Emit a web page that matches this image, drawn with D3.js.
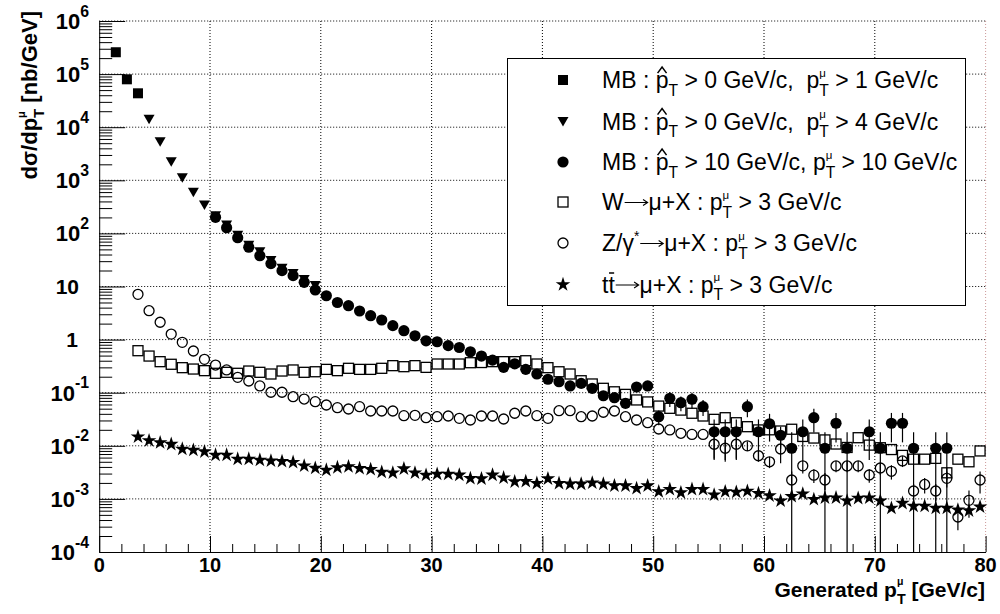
<!DOCTYPE html>
<html>
<head>
<meta charset="utf-8">
<script src="https://cdn.jsdelivr.net/npm/d3@7"></script>
<style>
  html, body { margin: 0; padding: 0; background: #fff; }
  svg { display: block; }
</style>
</head>
<body>
<svg id="chart" width="1000" height="614"></svg>
<script>
// ---- Differential muon cross sections, 1 GeV/c bins (values at bin centres) ----

// Minimum bias, p̂T > 0, pT(mu) > 1 GeV/c : first bin centre 1.5
const mbLowStart = 1.5;
const mbLowValues = [2.58e5, 7.98e4, 4.35e4];

// Minimum bias, p̂T > 0, pT(mu) > 4 GeV/c : first bin centre 4.5
const mbMidStart = 4.5;
const mbMidValues = [1.41e4, 5.3e3, 2.24e3, 1.12e3, 594, 343, 215, 144, 92, 60,
                     45, 31, 22, 17.5, 13.6, 10.4];

// Minimum bias, p̂T > 10, pT(mu) > 10 GeV/c : first bin centre 10.5
const mbHighStart = 10.5;
const mbHighValues = [201, 128, 83, 55, 38, 27, 19.9, 16, 12, 8.6,
                      6.7, 5.0, 4.35, 3.46, 2.82, 2.34, 1.83, 1.47, 1.18, 0.95,
                      0.91, 0.77, 0.71, 0.59, 0.49, 0.41, 0.30, 0.35, 0.275, 0.225,
                      0.179, 0.161, 0.134, 0.150, 0.121, 0.0877, 0.0805, 0.063, 0.128, 0.134,
                      0.0353, 0.0785, 0.0649, 0.0752, 0.0545, 0.0184, 0.0184, 0.0184, 0.0545, 0.0184,
                      0.0260, 0.0158, 0.0090, 0.0184, 0.0338, 0.0090, 0.0266, 0.0090, null, 0.0184,
                      0.0090, 0.0266, 0.0266, 0.0090, null, 0.0090, 0.0090, null, null, null];
const mbHighErrors = [0, 0, 0, 0, 0, 0, 0, 0, 0, 0,
                      0, 0, 0, 0, 0, 0, 0, 0, 0, 0,
                      0, 0, 0, 0, 0, 0, 0, 0, 0, 0,
                      0, 0, 0, 0, 0, 0.008, 0.012, 0.012, 0.015, 0.015,
                      0.011, 0.025, 0.020, 0.025, 0.018, 0.013, 0.013, 0.013, 0.020, 0.013,
                      0.014, 0.007, 0.009, 0.013, 0.016, 0.009, 0.015, 0.009, null, 0.013,
                      0.009, 0.015, 0.015, 0.009, null, 0.009, 0.009, null, null, null];

// W -> mu + X, pT(mu) > 3 GeV/c : first bin centre 3.5
const wStart = 3.5;
const wValues = [0.618, 0.49, 0.384, 0.343, 0.296, 0.279, 0.26,
                 0.232, 0.242, 0.232, 0.256, 0.242, 0.225, 0.256, 0.268, 0.242, 0.248,
                 0.275, 0.26, 0.288, 0.275, 0.275, 0.288, 0.323, 0.309, 0.323, 0.30,
                 0.347, 0.347, 0.347, 0.367, 0.37, 0.384, 0.384, 0.384, 0.40, 0.347,
                 0.296, 0.248, 0.225, 0.168, 0.146, 0.121, 0.104, 0.093, 0.073, 0.067,
                 0.056, 0.0508, 0.047, 0.041, 0.0364, 0.0315, 0.0338, 0.0272, 0.0229, 0.0199,
                 0.020, 0.019, 0.0205, 0.015, 0.014, 0.0129, 0.0108, 0.0093, 0.0142, 0.0103,
                 0.0092, 0.0085, 0.0066, 0.0056, 0.0056, 0.0058, 0.0031, 0.0056, 0.005, 0.008];
const wErrors = [0, 0, 0, 0, 0, 0, 0,
                 0, 0, 0, 0, 0, 0, 0, 0, 0, 0,
                 0, 0, 0, 0, 0, 0, 0, 0, 0, 0,
                 0, 0, 0, 0, 0, 0, 0, 0, 0, 0,
                 0, 0, 0, 0, 0, 0, 0, 0, 0, 0,
                 0, 0, 0, 0, 0, 0, 0, 0, 0, 0,
                 0, 0, 0, 0, 0, 0, 0, 0, 0, 0,
                 0, 0, 0, 0, 0, 0, 0.0008, 0, 0, 0];

// Z/gamma* -> mu + X, pT(mu) > 3 GeV/c : first bin centre 3.5
const zStart = 3.5;
const zValues = [7.13, 3.5, 2.12, 1.27, 0.889, 0.61, 0.425,
                 0.332, 0.268, 0.195, 0.166, 0.134, 0.102, 0.102, 0.084, 0.076, 0.0677,
                 0.0587, 0.0522, 0.0493, 0.0545, 0.0452, 0.0452, 0.0452, 0.0369, 0.0375, 0.0338,
                 0.0353, 0.0364, 0.0329, 0.0306, 0.0364, 0.0364, 0.032, 0.041, 0.0452, 0.0369,
                 0.0329, 0.0458, 0.0458, 0.0353, 0.0364, 0.0428, 0.0452, 0.0353, 0.0306, 0.0272,
                 0.0207, 0.0199, 0.0172, 0.0164, 0.0164, 0.0107, 0.0090, 0.0107, 0.0100, 0.0065,
                 0.0050, 0.0087, 0.00227, 0.0042, 0.0028, 0.00227, 0.00417, 0.00417, 0.00417, 0.00282,
                 0.00382, 0.00331, 0.00518, 0.00141, 0.00187, 0.00141, 0.00244, 0.000456, 0.00094, 0.00227];
const zErrors = [0, 0, 0, 0, 0, 0, 0,
                 0, 0, 0, 0, 0, 0, 0, 0, 0, 0,
                 0, 0, 0, 0, 0, 0, 0, 0, 0, 0,
                 0, 0, 0, 0, 0, 0, 0, 0, 0, 0,
                 0, 0, 0, 0, 0, 0, 0, 0, 0, 0,
                 0, 0, 0, 0, 0, 0.005, 0.004, 0.005, 0.002, 0.0015,
                 0.0012, 0.004, 0.001, 0.0012, 0.0008, 0.0008, 0.001, 0.001, 0.001, 0.0008,
                 0.001, 0.001, 0.0012, 0.0005, 0.0006, 0.0005, 0.0008, 0.0002, 0.0005, 0.001];

// ttbar -> mu + X, pT(mu) > 3 GeV/c : first bin centre 3.5
const ttStart = 3.5;
const ttValues = [0.0148, 0.0125, 0.0115, 0.0107, 0.0087, 0.0083, 0.00775,
                  0.0067, 0.0067, 0.00564, 0.00564, 0.0054, 0.0052, 0.0051, 0.0049, 0.0042, 0.0038,
                  0.0035, 0.0039, 0.00405, 0.00377, 0.0036, 0.0032, 0.0031, 0.0037, 0.0031, 0.0028,
                  0.00293, 0.00293, 0.00282, 0.00244, 0.0024, 0.00282, 0.0025, 0.00211, 0.00214, 0.00197,
                  0.0024, 0.00197, 0.00191, 0.00191, 0.002, 0.00191, 0.00177, 0.00177, 0.00158, 0.00177,
                  0.00137, 0.00152, 0.00131, 0.00152, 0.00152, 0.00119, 0.00137, 0.00134, 0.0014, 0.00127,
                  0.00115, 0.00092, 0.00112, 0.00124, 0.00098, 0.00105, 0.00105, 0.00092, 0.00103, 0.00105,
                  0.00092, 0.00067, 0.00083, 0.00073, 0.00073, 0.00067, 0.00067, 0.00062, 0.0006, 0.00071];

// Axis tick values
const xMajorTicks = [0, 10, 20, 30, 40, 50, 60, 70, 80];
const yDecadeExponents = [-4, -3, -2, -1, 0, 1, 2, 3, 4, 5, 6];

// ---- Layout ----
const FONT = "'Liberation Sans', Arial, Helvetica, sans-serif";
const svg = d3.select("#chart");
const x = d3.scaleLinear().domain([0, 80]).range([99.2, 985.6]);
const y = d3.scaleLog().domain([1e-4, 1e6]).range([552, 21]);
const [x0, x1] = x.range();
const [yBottom, yTop] = y.range();

// Rich text: plain strings, hatted / barred letters, arrows, stacked sub/superscripts
function rich(parent, parts, opts) {
  const s = opts.size;
  const g = parent.append("g");
  let cx = 0;
  const put = (str, px, py, fs) => {
    const t = g.append("text")
      .attr("x", px).attr("y", py)
      .attr("font-family", FONT)
      .attr("font-size", fs)
      .attr("font-weight", opts.weight || "normal")
      .attr("fill", "#000")
      .text(str.replace(/ /g, "\u00A0"));
    return t.node().getComputedTextLength();
  };
  parts.forEach(p => {
    if (typeof p === "string") { cx += put(p, cx, 0, s); return; }
    if (p.hat) {
      const w = put(p.t, cx, 0, s);
      g.append("path")
        .attr("d", `M${cx + w * 0.15},${-s * 0.66}L${cx + w * 0.5},${-s * 0.92}L${cx + w * 0.85},${-s * 0.66}`)
        .attr("fill", "none").attr("stroke", "#000").attr("stroke-width", 1.5);
      cx += w; return;
    }
    if (p.bar) {
      const w = put(p.t, cx, 0, s);
      g.append("line")
        .attr("x1", cx + w * 0.1).attr("x2", cx + w * 0.9)
        .attr("y1", -s * 0.86).attr("y2", -s * 0.86)
        .attr("stroke", "#000").attr("stroke-width", 1.5);
      cx += w; return;
    }
    if (p.arrow) {
      const len = s * 1.08, ay = -s * 0.34;
      g.append("path")
        .attr("d", `M${cx + s * 0.04},${ay}L${cx + len - s * 0.04},${ay}` +
                   `M${cx + len - s * 0.24},${ay - s * 0.13}L${cx + len - s * 0.04},${ay}L${cx + len - s * 0.24},${ay + s * 0.13}`)
        .attr("fill", "none").attr("stroke", "#000").attr("stroke-width", 1.1);
      cx += len; return;
    }
    let w1 = 0, w2 = 0;
    if (p.sub) w1 = put(p.sub, cx, s * 0.32, s * (p.subScale || 0.68));
    if (p.sup) w2 = put(p.sup, cx + (p.supShift || 0), -s * (p.supRaise || 0.5), s * (p.supScale || 0.62));
    cx += Math.max(w1, w2 + (p.supShift || 0));
  });
  const dx = opts.anchor === "end" ? -cx : opts.anchor === "middle" ? -cx / 2 : 0;
  g.attr("transform", `translate(${opts.x + dx},${opts.y})`);
  return cx;
}

// ---- Grid ----
const grid = svg.append("g").attr("stroke", "#000").attr("stroke-width", 1)
  .attr("stroke-dasharray", "1,2");
grid.selectAll("line.gx").data(xMajorTicks.filter(v => v > 0 && v < 80)).join("line")
  .attr("x1", d => x(d)).attr("x2", d => x(d)).attr("y1", yTop).attr("y2", yBottom);
grid.selectAll("line.gy").data(yDecadeExponents.filter(e => e > -4)).join("line")
  .attr("y1", e => y(Math.pow(10, e))).attr("y2", e => y(Math.pow(10, e)))
  .attr("x1", x0).attr("x2", x1);
svg.append("line").attr("x1", x1).attr("x2", x1).attr("y1", yTop).attr("y2", yBottom)
  .attr("stroke", "#c99").attr("stroke-dasharray", "1,2");

// ---- Axes (ticks point into the frame) ----
const xMinor = d3.range(0, 81, 2).filter(v => v % 10 !== 0);
svg.append("g").attr("transform", `translate(0,${yBottom})`)
  .call(d3.axisBottom(x).tickValues(xMinor).tickSize(-8).tickFormat(""))
  .call(g => g.select(".domain").remove());
svg.append("g").attr("transform", `translate(0,${yBottom})`)
  .call(d3.axisBottom(x).tickValues(xMajorTicks).tickSize(-16).tickSizeOuter(0).tickFormat(""))
  .call(g => g.selectAll("line, path").attr("stroke", "#000").attr("stroke-width", 1));

const yAll = y.ticks(60);
const yMinor = yAll.filter(v => Math.abs(Math.log10(v) - Math.round(Math.log10(v))) > 1e-6);
svg.append("g").attr("transform", `translate(${x0},0)`)
  .call(d3.axisLeft(y).tickValues(yMinor).tickSize(-13).tickFormat(""))
  .call(g => g.select(".domain").remove());
svg.append("g").attr("transform", `translate(${x0},0)`)
  .call(d3.axisLeft(y).tickValues(yDecadeExponents.map(e => Math.pow(10, e))).tickSize(-26).tickSizeOuter(0).tickFormat(""))
  .call(g => g.selectAll("line, path").attr("stroke", "#000").attr("stroke-width", 1));

// Tick labels
const labelSize = 20;
xMajorTicks.forEach(v => {
  svg.append("text").attr("x", x(v)).attr("y", 572).attr("text-anchor", "middle")
    .attr("font-family", FONT).attr("font-weight", "bold").attr("font-size", labelSize)
    .text(v);
});
yDecadeExponents.forEach(e => {
  if (e === 0 || e === 1) {
    const yy = y(Math.pow(10, e)) + labelSize * 0.36;
    rich(svg, [e === 0 ? "1" : "10"], { x: e === 0 ? 78 : 79, y: yy, size: 21, weight: "bold", anchor: "end" });
  } else {
    const yy = y(Math.pow(10, e)) + 22 * 0.36;
    rich(svg, ["10", { sup: String(e), supScale: 0.72, supRaise: 0.56 }],
         { x: 89, y: yy, size: 22, weight: "bold", anchor: "end" });
  }
});

// Axis titles
rich(svg, ["Generated p", { sub: "T", sup: "\u03BC", supScale: 0.5, supRaise: 0.55 }, " [GeV/c]"],
     { x: 985, y: 597, size: 21, weight: "bold", anchor: "end" });
const yTitle = svg.append("g").attr("transform", "translate(37,11) rotate(-90)");
rich(yTitle, ["d\u03C3/dp", { sub: "T", sup: "\u03BC", supScale: 0.5, supRaise: 0.55 }, " [nb/GeV]"],
     { x: 0, y: 0, size: 22, weight: "bold", anchor: "end" });

// ---- Markers ----
const markers = {
  fsquare: g => g.append("rect").attr("x", -5).attr("y", -5).attr("width", 10).attr("height", 10).attr("fill", "#000"),
  ftri: g => g.append("path").attr("d", "M-5.5,-4.5L5.5,-4.5L0,5Z").attr("fill", "#000"),
  fcircle: g => g.append("circle").attr("r", 5.6).attr("fill", "#000"),
  osquare: g => g.append("rect").attr("x", -5).attr("y", -5).attr("width", 10).attr("height", 10)
    .attr("fill", "none").attr("stroke", "#000").attr("stroke-width", 1.3),
  ocircle: g => g.append("circle").attr("r", 5).attr("fill", "none").attr("stroke", "#000").attr("stroke-width", 1.3),
  star: g => g.append("path").attr("d", d3.symbol(d3.symbolStar, 66)()).attr("fill", "#000")
};

function points(start, values, errors) {
  return values.map((v, i) => ({ pt: start + i, v, e: errors ? (errors[i] || 0) : 0 }))
    .filter(d => d.v != null);
}

const series = [
  { key: "mbMid", marker: "ftri", data: points(mbMidStart, mbMidValues) },
  { key: "mbLow", marker: "fsquare", data: points(mbLowStart, mbLowValues) },
  { key: "mbHigh", marker: "fcircle", data: points(mbHighStart, mbHighValues, mbHighErrors) },
  { key: "w", marker: "osquare", data: points(wStart, wValues, wErrors) },
  { key: "z", marker: "ocircle", data: points(zStart, zValues, zErrors) },
  { key: "tt", marker: "star", data: points(ttStart, ttValues) }
];

const plot = svg.append("g");
series.forEach(s => {
  const g = plot.append("g").attr("class", s.key);
  g.selectAll("line.err").data(s.data.filter(d => d.e > 0)).join("line")
    .attr("x1", d => x(d.pt)).attr("x2", d => x(d.pt))
    .attr("y1", d => y(d.v + d.e))
    .attr("y2", d => (d.v - d.e) > 1e-4 ? y(d.v - d.e) : yBottom)
    .attr("stroke", "#000").attr("stroke-width", 1.2);
  const m = g.selectAll("g.m").data(s.data).join("g")
    .attr("transform", d => `translate(${x(d.pt)},${y(d.v)})`);
  markers[s.marker](m);
});

// ---- Legend ----
const legend = svg.append("g");
legend.append("rect").attr("x", 507.5).attr("y", 58.5).attr("width", 458).attr("height", 247)
  .attr("fill", "#fff").attr("stroke", "#000").attr("stroke-width", 1);
const pmu = { sub: "T", sup: "\u03BC", supScale: 0.5, supRaise: 0.5 };
const legendEntries = [
  { marker: "fsquare", parts: ["MB : ", { t: "p", hat: true }, { sub: "T" }, " > 0 GeV/c,  p", pmu, " > 1 GeV/c"] },
  { marker: "ftri", parts: ["MB : ", { t: "p", hat: true }, { sub: "T" }, " > 0 GeV/c,  p", pmu, " > 4 GeV/c"] },
  { marker: "fcircle", parts: ["MB : ", { t: "p", hat: true }, { sub: "T" }, " > 10 GeV/c, p", pmu, " > 10 GeV/c"] },
  { marker: "osquare", parts: ["W", { arrow: true }, "\u03BC+X : p", pmu, " > 3 GeV/c"] },
  { marker: "ocircle", parts: ["Z/\u03B3", { sup: "*", supScale: 0.6, supRaise: 0.45 }, { arrow: true }, "\u03BC+X : p", pmu, " > 3 GeV/c"] },
  { marker: "star", parts: ["t", { t: "t", bar: true }, { arrow: true }, "\u03BC+X : p", pmu, " > 3 GeV/c"] }
];
const legendRowY = [80, 121.5, 162, 202, 243, 284.5];
const legendSize = 23;
legendEntries.forEach((entry, i) => {
  const cy = legendRowY[i];
  const m = legend.append("g").attr("transform", `translate(563,${cy})`);
  markers[entry.marker](m);
  rich(legend, entry.parts, { x: 602, y: cy + legendSize * 0.36, size: legendSize, anchor: "start" });
});
</script>
</body>
</html>
